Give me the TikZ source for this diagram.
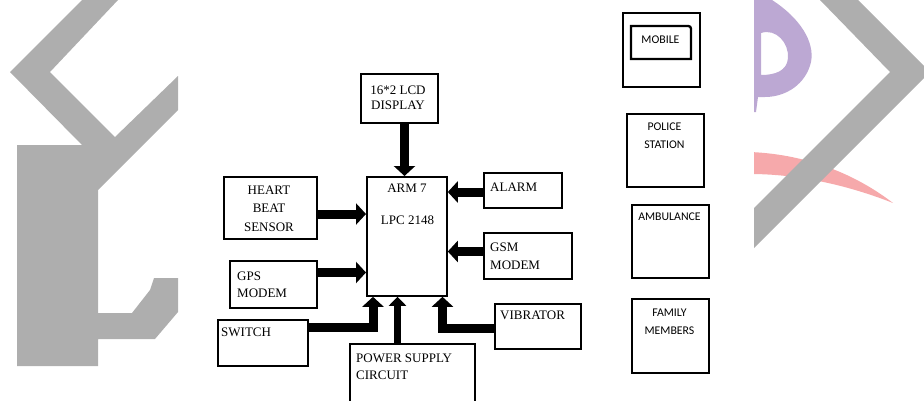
\documentclass[tikz,border=0pt]{standalone}
\usepackage{fontspec}
\setmainfont{Liberation Serif}
\newfontfamily\calib{Carlito}
\usetikzlibrary{arrows.meta}
\definecolor{wmgray}{HTML}{AEAEAE}
\definecolor{wmpurple}{HTML}{BCA8D3}
\definecolor{wmpink}{HTML}{F6A9AB}
\begin{document}
\begin{tikzpicture}[x=1pt,y=-1pt,
  box/.style={draw=black, line width=1.8pt, rectangle, inner sep=0pt, anchor=north west},
  rbox/.style={box, line width=2.3pt},
  serif/.style={font=\fontsize{13}{15}\selectfont, inner sep=0pt, anchor=base},
  serifl/.style={serif, anchor=base west},
  sans/.style={font=\calib\fontsize{11.8}{14}\selectfont, inner sep=0pt, anchor=base},
  arr/.style={line width=9pt, line join=miter, -{Triangle[width=21pt,length=10pt]}},
  parr/.style={line width=7pt, -{Triangle[width=17pt,length=9pt]}}]

\useasboundingbox (0,0) rectangle (924,400);
\clip (0,0) rectangle (924,400);

% ---- watermark (background) ----
\fill[wmgray] (10,72) -- (82,0) -- (118,0) -- (50,72) -- (115,137) -- (178,76)
  -- (178,110) -- (98,190) -- (98,313) -- (132,313) -- (150,290) -- (154,278)
  -- (178,278) -- (178,312) -- (155,339) -- (98,339) -- (98,366) -- (17,366)
  -- (17,145) -- (82,145) -- cycle;
\begin{scope}
  \clip (754,0) rectangle (924,400);
  \fill[wmpink] (750,152) .. controls (800,154) and (850,170) .. (893,203)
    .. controls (850,186) and (800,174) .. (750,174) -- cycle;
  \fill[wmgray] (820,0) -- (858,0) -- (930,72) -- (754,248) -- (754,208) -- (890,72) -- cycle;
  \fill[wmpurple, even odd rule]
    (750,0) -- (772,0) .. controls (800,18) and (815,42) .. (811,62)
    .. controls (806,84) and (786,97) .. (765,97) -- (758,97) -- (756,112) -- (750,112) -- cycle
    (761,33) .. controls (776,28) and (789,43) .. (788,58)
    .. controls (787,71) and (775,75) .. (761,75) -- cycle;
\end{scope}

% ---- block diagram ----
\node[box, minimum width=77pt, minimum height=49pt]  (lcd)    at (360,73)  {};
\node[box, minimum width=80pt, minimum height=119pt] (arm)    at (366,176) {};
\node[box, minimum width=93pt, minimum height=62pt]  (heart)  at (223,176) {};
\node[box, minimum width=87pt, minimum height=47pt]  (gps)    at (229,260) {};
\node[box, minimum width=90pt, minimum height=46pt]  (switch) at (217,319) {};
\node[box, minimum width=125pt, minimum height=80pt] (power)  at (349,343) {};
\node[box, minimum width=78pt, minimum height=35pt]  (alarm)  at (483,172) {};
\node[box, minimum width=88pt, minimum height=46pt]  (gsm)    at (483,232) {};
\node[box, minimum width=86pt, minimum height=45pt]  (vib)    at (494,303) {};

\node[serif] (lcd1) at (398,94.5) {16*2 LCD};
\node[serif] (lcd2) at (398,109.5) {DISPLAY};
\node[serif] (arm1) at (407,192.5) {ARM 7};
\node[serif] (arm2) at (407.5,224.5) {LPC 2148};
\node[serif] (hb1) at (269,194) {HEART};
\node[serif] (hb2) at (269,212.5) {BEAT};
\node[serif] (hb3) at (269,231) {SENSOR};
\node[serifl] (gps1) at (237,280) {GPS};
\node[serifl] (gps2) at (237,297) {MODEM};
\node[serifl] (sw1) at (221,336.5) {SWITCH};
\node[serifl] (pw1) at (356,362) {POWER SUPPLY};
\node[serifl] (pw2) at (356,379.5) {CIRCUIT};
\node[serifl] (al1) at (490,191.5) {ALARM};
\node[serifl] (gsm1) at (490,251.5) {GSM};
\node[serifl] (gsm2) at (490,269) {MODEM};
\node[serifl] (vb1) at (500,319.5) {VIBRATOR};

\draw[arr] (lcd.south -| 404.5,0) -- (arm.north -| 404.5,0);
\draw[arr] (heart.east |- 0,214) -- (arm.west |- 0,214);
\draw[arr] (gps.east |- 0,272.5) -- (arm.west |- 0,272.5);
\draw[arr] (alarm.west |- 0,192) -- (arm.east |- 0,192);
\draw[arr] (gsm.west |- 0,251.5) -- (arm.east |- 0,251.5);
\draw[arr] (switch.east |- 0,327) -| (arm.south -| 373,0);
\draw[parr] (power.north -| 397.5,0) -- (arm.south -| 397.5,0);
\draw[arr] (vib.west |- 0,328) -| (arm.south -| 442.5,0);

% ---- right column ----
\node[rbox, minimum width=77pt, minimum height=74pt] (mobbox) at (622,12) {};
\draw[line width=2.3pt] (631,59) -- (631,26) -- (685,26) .. controls (691,26) .. (691,32) -- (691,59) -- cycle;
\node[sans] (mob) at (660.5,43) {MOBILE};
\node[rbox, minimum width=77pt, minimum height=73pt] (police) at (626,113) {};
\node[sans] (pol1) at (664.5,130) {POLICE};
\node[sans] (pol2) at (664.5,148.5) {STATION};
\node[rbox, minimum width=77pt, minimum height=73pt] (amb) at (631,204) {};
\node[sans] (amb1) at (669.5,220) {AMBULANCE};
\node[rbox, minimum width=77pt, minimum height=74pt] (fam) at (631,298) {};
\node[sans] (fam1) at (669.5,316) {FAMILY};
\node[sans] (fam2) at (669.5,334) {MEMBERS};
\end{tikzpicture}
\end{document}
